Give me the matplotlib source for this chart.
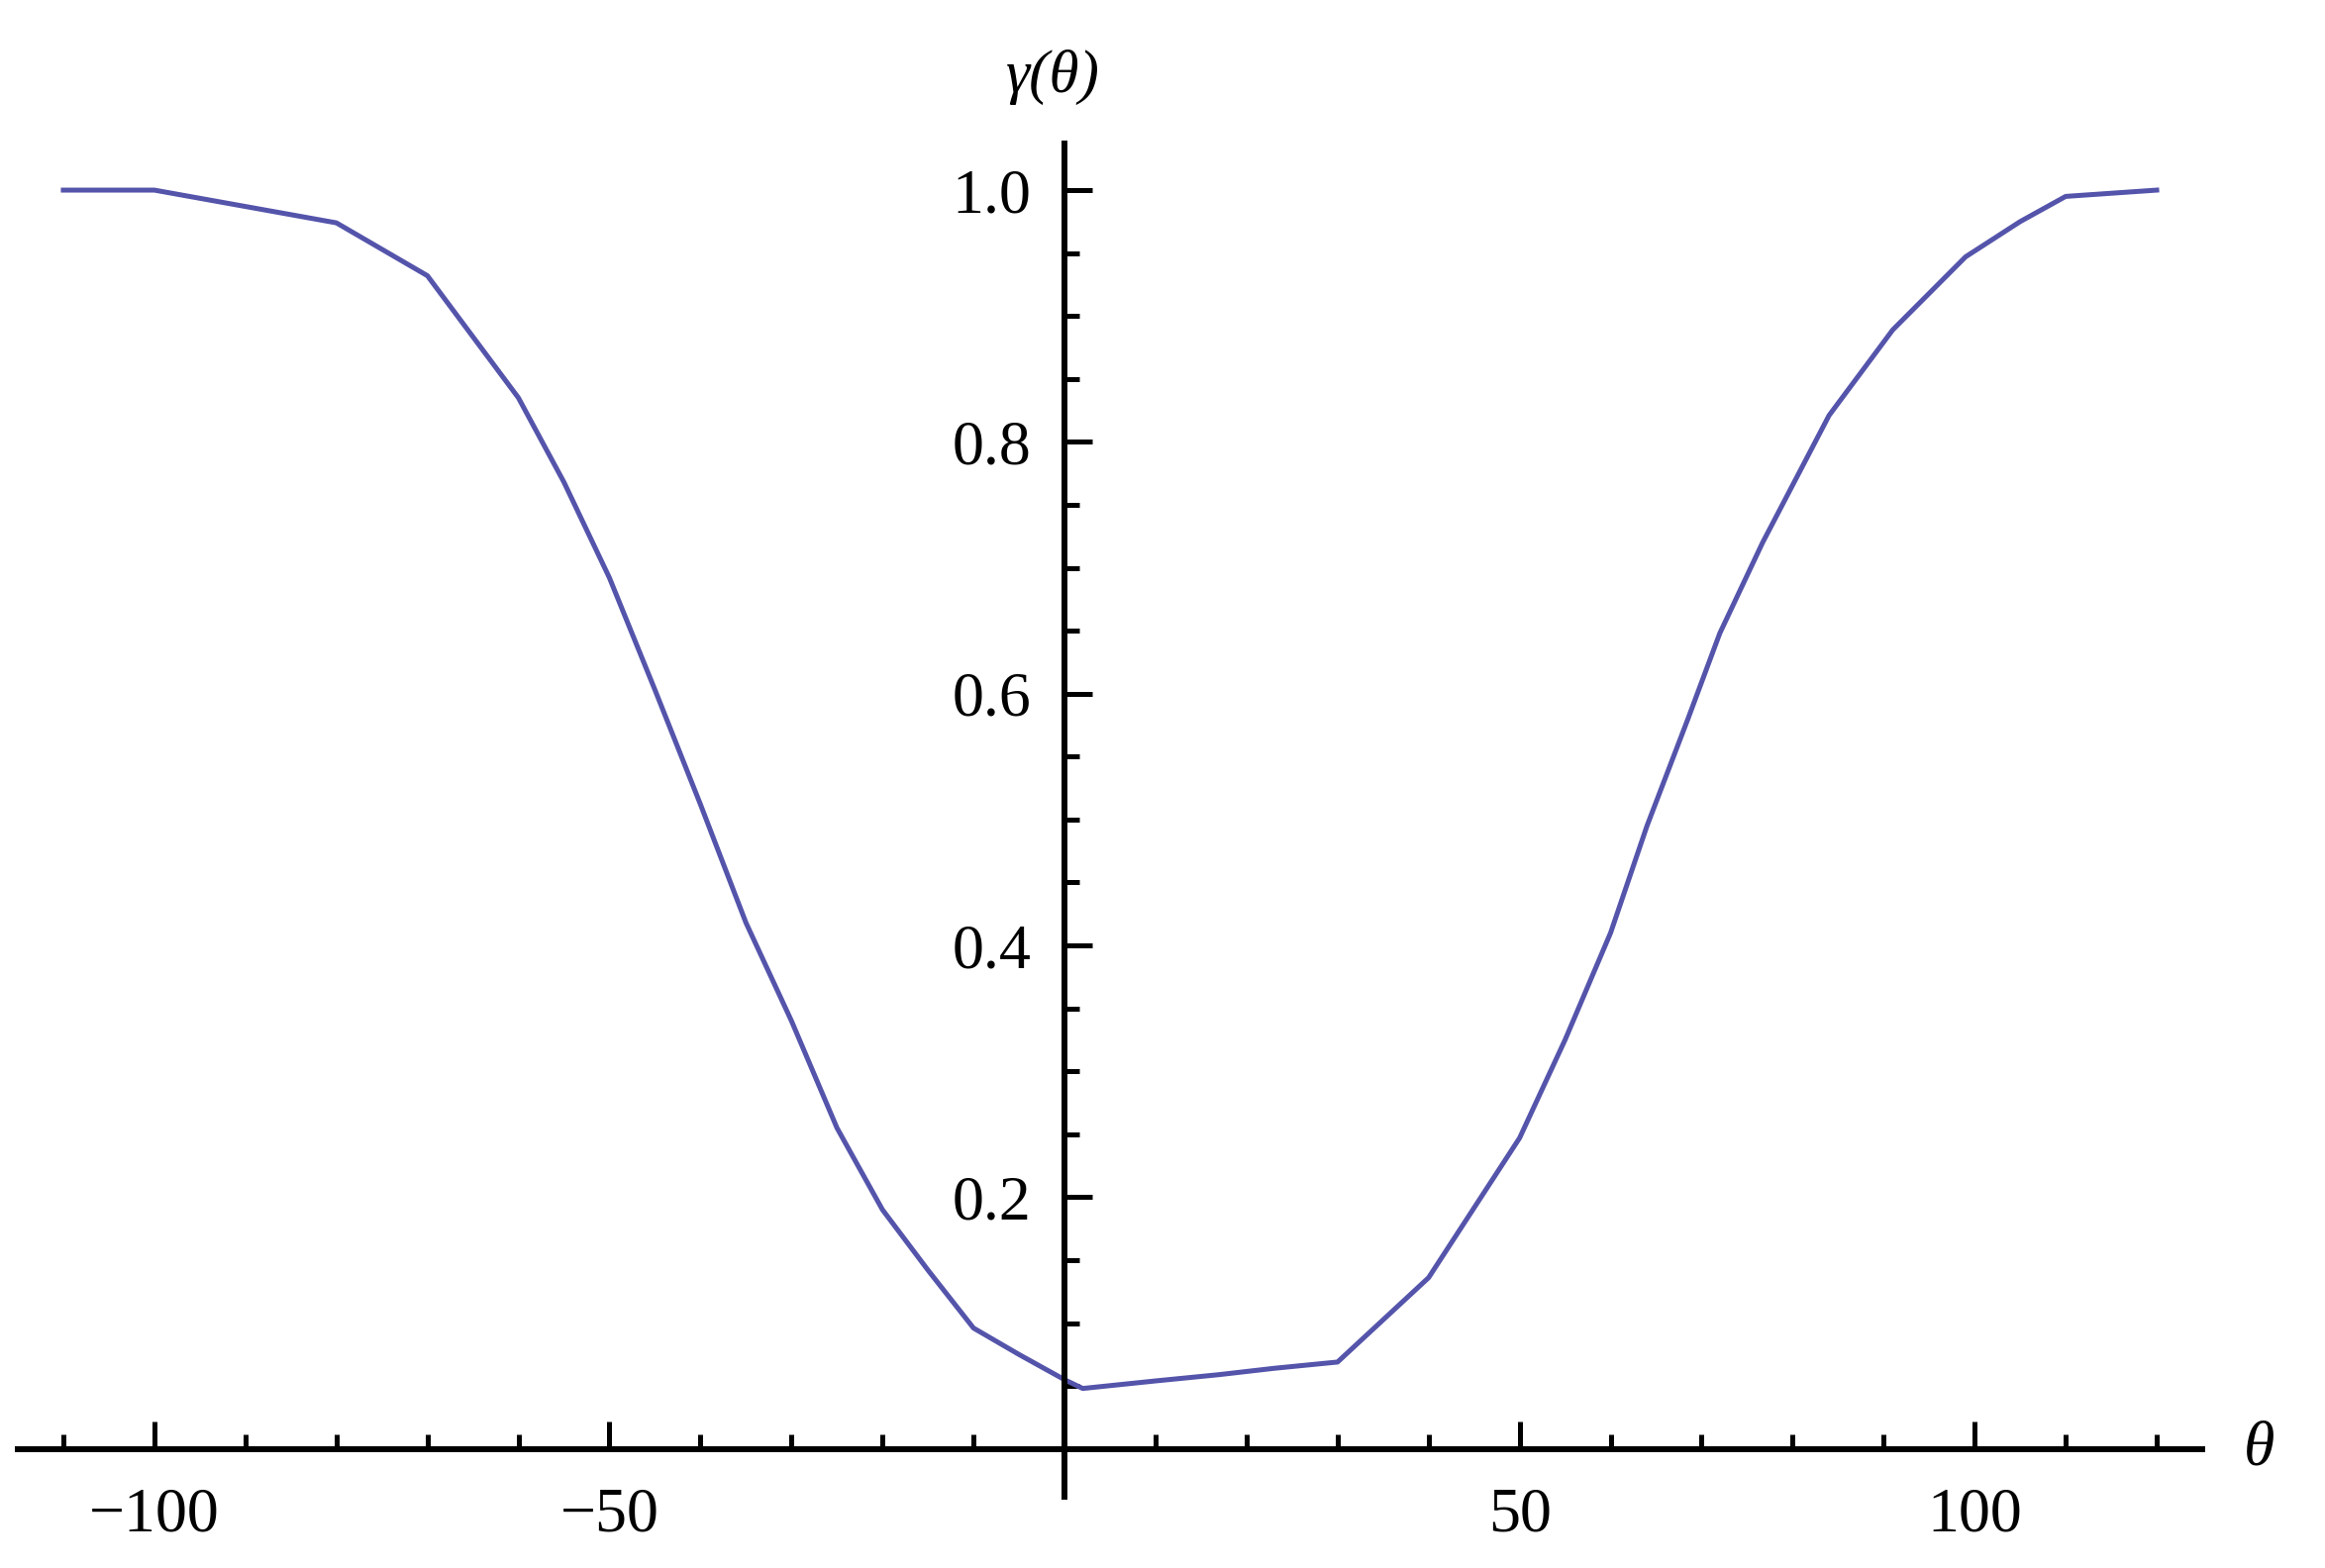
import matplotlib
matplotlib.use("Agg")
import matplotlib.pyplot as plt
from matplotlib.ticker import FixedLocator, FixedFormatter

# Data
theta = [-110, -100, -90, -80, -70, -60, -55, -50, -45, -40, -35, -30, -25,
         -20, -15, -10, -5, 0, 2, 10, 17, 23, 30, 40, 50, 55, 60,
         64, 68.5, 72, 76.7, 84, 91, 99, 105, 110, 120]
gamma = [1.0, 1.0, 0.987, 0.974, 0.932, 0.835, 0.768, 0.692, 0.603, 0.512,
         0.418, 0.340, 0.255, 0.190, 0.142, 0.096, 0.075, 0.055, 0.048,
         0.054, 0.059, 0.064, 0.069, 0.136, 0.247, 0.325,
         0.410, 0.495, 0.580, 0.648, 0.720, 0.821, 0.889, 0.947, 0.975,
         0.995, 1.0]

x_major = [-100, -50, 50, 100]
x_major_labels = ["\u2212100", "\u221250", "50", "100"]
x_minor = [-110, -90, -80, -70, -60, -40, -30, -20, -10, 10, 20, 30, 40,
           60, 70, 80, 90, 110, 120]
y_major = [0.2, 0.4, 0.6, 0.8, 1.0]
y_major_labels = ["0.2", "0.4", "0.6", "0.8", "1.0"]
y_minor = [0.05, 0.1, 0.15, 0.25, 0.3, 0.35, 0.45, 0.5, 0.55, 0.65, 0.7,
           0.75, 0.85, 0.9, 0.95]

plt.rcParams['font.family'] = ['Liberation Serif', 'DejaVu Serif']

fig = plt.figure(figsize=(23.48, 15.84), dpi=100)
ax = fig.add_axes([18 / 2348, 72 / 1584, 2206 / 2348, 1367 / 1584])

ax.plot(theta, gamma, color='#5454ab', lw=3.6, solid_joinstyle='round')

ax.set_xlim(-115, 125)
ax.set_ylim(-0.038, 1.037)

for s in ['top', 'right']:
    ax.spines[s].set_visible(False)
ax.spines['left'].set_position(('data', 0))
ax.spines['bottom'].set_position(('data', 0))
for s in ['left', 'bottom']:
    ax.spines[s].set_linewidth(4.3)
    ax.spines[s].set_color('black')

ax.xaxis.set_major_locator(FixedLocator(x_major))
ax.xaxis.set_major_formatter(FixedFormatter(x_major_labels))
ax.xaxis.set_minor_locator(FixedLocator(x_minor))
ax.yaxis.set_major_locator(FixedLocator(y_major))
ax.yaxis.set_major_formatter(FixedFormatter(y_major_labels))
ax.yaxis.set_minor_locator(FixedLocator(y_minor))

ax.tick_params(which='major', direction='in', length=20, width=3.6,
               labelsize=46, color='black')
ax.tick_params(which='minor', direction='in', length=11, width=3.6,
               color='black')
ax.tick_params(axis='x', which='major', pad=28)
ax.tick_params(axis='y', which='major', pad=24)

ax.set_facecolor('white')

fig.text(1063 / 2348, 1 - 78 / 1584, "\u03b3(\u03b8)", ha='center', va='center',
         fontsize=44, style='italic')
fig.text(2282 / 2348, 1 - 1465 / 1584, "\u03b8", ha='center', va='center',
         fontsize=46, style='italic')

fig.savefig("out.png", dpi=100, facecolor='white')
